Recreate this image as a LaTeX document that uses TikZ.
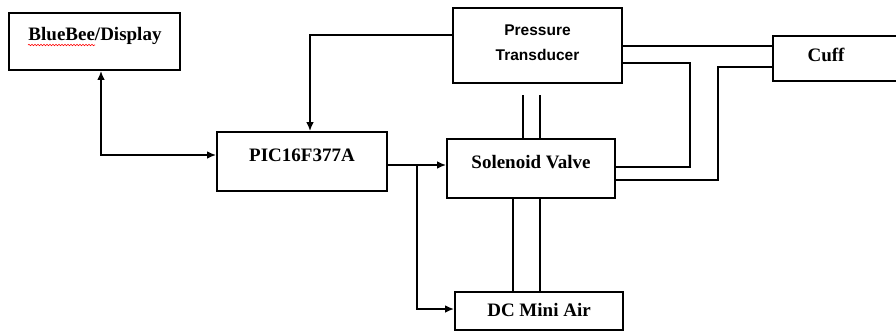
\documentclass[tikz,border=0pt]{standalone}
\usepackage{fontspec}
\setmainfont{Liberation Serif}
\newfontfamily\ptsans{Liberation Sans}
\usetikzlibrary{arrows.meta,decorations.pathmorphing}
\begin{document}
\begin{tikzpicture}[x=1pt,y=-1pt,
  box/.style={draw, line width=1.7pt, rectangle, inner sep=0pt},
  lbl/.style={font=\fontsize{19}{21}\selectfont\bfseries, inner sep=0pt},
  wire/.style={line width=1.7pt},
  arr/.style={wire, -{Latex[length=9pt,width=7.5pt]}},
  darr/.style={wire, {Latex[length=9pt,width=7.5pt]}-{Latex[length=9pt,width=7.5pt]}}]
\useasboundingbox (0,0) rectangle (896,333);
% boxes
\node[box, minimum width=171pt, minimum height=57pt] (bb) at (94.5,41.5) {};
\node[box, minimum width=170pt, minimum height=59pt] (pic) at (302,161.5) {};
\node[box, minimum width=169pt, minimum height=75pt] (pt) at (537.5,45.5) {};
\node[box, minimum width=127pt, minimum height=45pt] (cuff) at (836.5,58.5) {};
\node[box, minimum width=168pt, minimum height=59pt] (sv) at (531,168.5) {};
\node[box, minimum width=168pt, minimum height=38pt] (dc) at (539,311) {};
% labels
\node[lbl] (bbt) at (95,36) {BlueBee/Display};
\draw[red, line width=0.6pt, decorate, decoration={snake, amplitude=0.7pt, segment length=3pt}] (28,45) -- (95,45);
\node[lbl] (pict) at (302,155) {PIC16F377A};
\node[font=\ptsans\fontsize{15.5}{25}\selectfont\bfseries, align=center, inner sep=0pt] (ptt) at (537.5,42.5) {Pressure\\Transducer};
\node[lbl] (cufft) at (826,55) {Cuff};
\node[lbl] (svt) at (531,162) {Solenoid Valve};
\node[lbl] (dct) at (539,310) {DC Mini Air};
% helper coordinates
\coordinate (tp1) at (523,95);
\coordinate (tp2) at (540,95);
\coordinate (j1) at (417,165);
\coordinate (k1) at (690,167);
\coordinate (k2) at (718,180);
\coordinate (k3) at (718,67);
% connectors
\draw[darr] (bb.south -| 101,0) |- (pic.west |- 0,155);
\draw[arr] (pt.west |- 0,35) -| (pic.north -| 310,0);
\draw[arr] (pic.east |- j1) -- (sv.west |- j1);
\draw[arr] (j1) |- (dc.west |- 0,309);
\draw[wire] (tp1) -- (sv.north -| tp1);
\draw[wire] (tp2) -- (sv.north -| tp2);
\draw[wire] (sv.south -| 513,0) -- (dc.north -| 513,0);
\draw[wire] (sv.south -| 540,0) -- (dc.north -| 540,0);
\draw[wire] (pt.east |- 0,46) -- (cuff.west |- 0,46);
\draw[wire] (pt.east |- 0,63) -| (k1) -- (sv.east |- k1);
\draw[wire] (sv.east |- k2) -- (k2) -- (k3) -- (cuff.west |- k3);
\end{tikzpicture}
\end{document}
